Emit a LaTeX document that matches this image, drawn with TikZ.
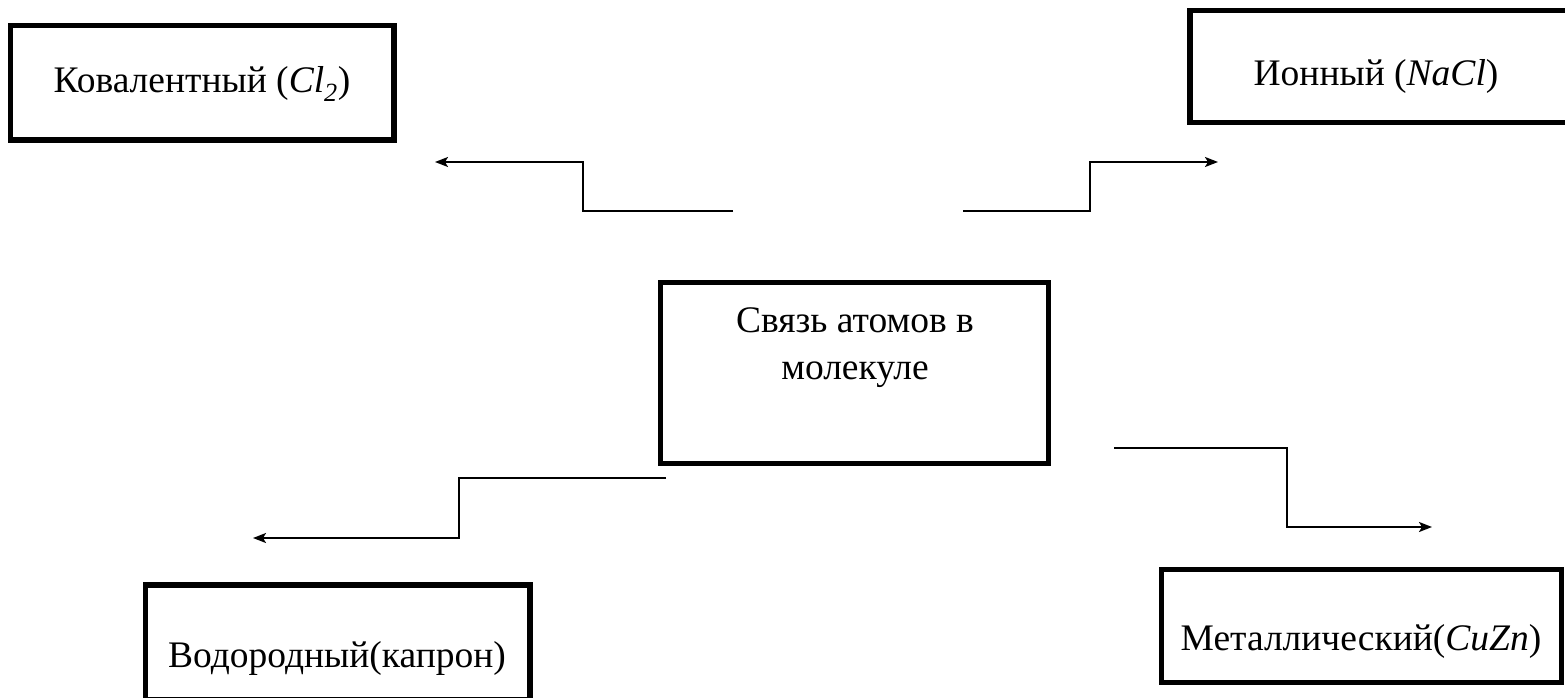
\documentclass[tikz,border=0pt]{standalone}
\usepackage{fontspec}
\setmainfont{Liberation Serif}
\usetikzlibrary{arrows.meta}
\begin{document}
\begin{tikzpicture}[x=1pt,y=-1pt,
  box/.style={draw=black,line width=5.5pt,rectangle,inner sep=0pt},
  lbl/.style={font=\fontsize{37.5}{47}\selectfont,align=center,inner sep=0pt},
  conn/.style={draw=black,line width=2pt,-{Stealth[length=13pt,width=10pt,inset=3pt]}}]
\useasboundingbox (0,0) rectangle (1565,698);
% boxes
\node[box,minimum width=383.5pt,minimum height=114.5pt] (kov) at (202.25,82.75) {};
\node[box,minimum width=378pt,minimum height=112pt] (ion) at (1379,66.5) {};
\node[box,minimum width=388pt,minimum height=181pt] (sv) at (854.5,373) {};
\node[box,minimum width=384.5pt,minimum height=115pt] (vod) at (337.75,642.5) {};
\node[box,minimum width=400pt,minimum height=113pt] (met) at (1361.5,626) {};
% labels
\node[lbl] (kovt) at (202,84) {Ковалентный (\textit{Cl}$_{\mathit 2}$)};
\node[lbl] (iont) at (1376,76) {Ионный (\textit{NaCl})};
\node[lbl] (svt) at (855,348) {Связь атомов в\\молекуле};
\node[lbl] (vodt) at (337,658) {Водородный(капрон)};
\node[lbl] (mett) at (1361,641) {Металлический(\textit{CuZn})};
% connector ends
\coordinate (a1s) at (733,211); \coordinate (a1e) at (435,162);
\coordinate (a2s) at (963,211); \coordinate (a2e) at (1218,162);
\coordinate (a3s) at (666,478); \coordinate (a3e) at (253,538);
\coordinate (a4s) at (1114,448); \coordinate (a4e) at (1432,527);
\draw[conn] (a1s) -- ++(-150,0) |- (a1e);
\draw[conn] (a2s) -- ++(127,0) |- (a2e);
\draw[conn] (a3s) -- ++(-207,0) |- (a3e);
\draw[conn] (a4s) -- ++(173,0) |- (a4e);
\end{tikzpicture}
\end{document}
